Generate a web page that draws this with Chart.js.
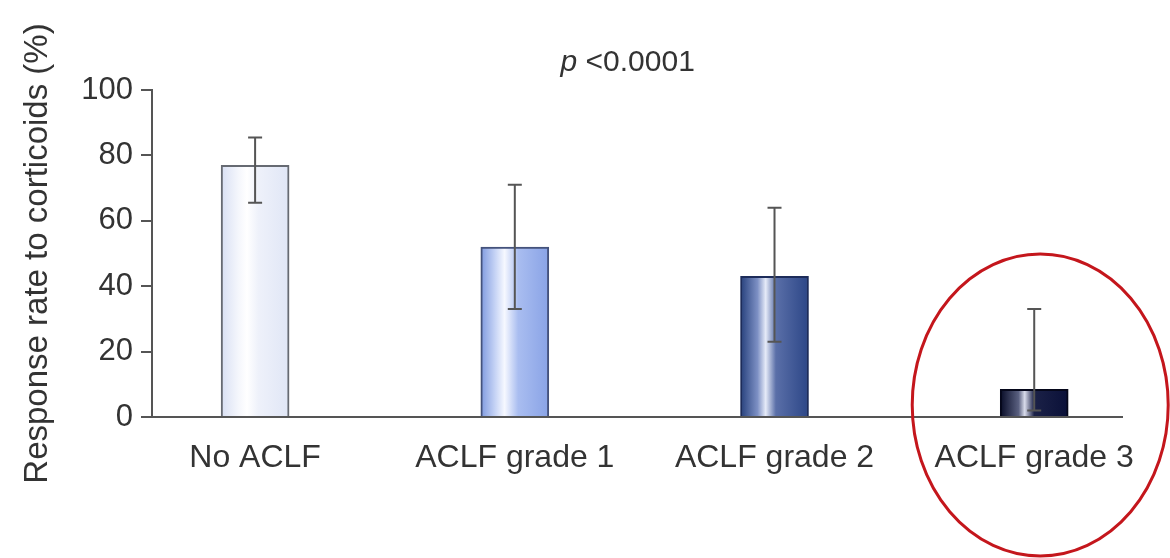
<!DOCTYPE html>
<html>
<head>
<meta charset="utf-8">
<script src="https://cdn.jsdelivr.net/npm/chart.js@4/dist/chart.umd.min.js"></script>
<style>
html,body{margin:0;padding:0;background:#fff;}
#wrap{width:1170px;height:558px;position:relative;}
</style>
</head>
<body>
<div id="wrap"><canvas id="c" width="1170" height="558"></canvas></div>
<script>
const categories = ["No ACLF", "ACLF grade 1", "ACLF grade 2", "ACLF grade 3"];
const responseRate = [77, 52, 43, 8.5];
const errorUpper = [85.5, 71, 64, 33];
const errorLower = [65.5, 33, 23, 2];
const yTicks = [0, 20, 40, 60, 80, 100];
const pValueLabel = "<0.0001";
const yAxisTitle = "Response rate to corticoids (%)";

const X_MIN = -0.397, X_MAX = 3.338;

const gradientStops = [
  [["#d8dff3",0],["#f4f6fc",0.25],["#ffffff",0.38],["#eef1fa",0.55],["#e0e6f6",1]],
  [["#7f9ae0",0],["#c9d6f6",0.22],["#f6f8ff",0.35],["#a9bdf0",0.55],["#89a3e6",1]],
  [["#26407c",0],["#7d90c4",0.25],["#e6ebf8",0.37],["#5a6fa8",0.52],["#2c4687",1]],
  [["#070b26",0],["#5a6080",0.27],["#d9dceb",0.36],["#1b2147",0.5],["#0a1038",1]]
];
const borderColors = ["#666a72", "#44527c", "#1d2c5a", "#05071a"];

const gradientPlugin = {
  id: 'grad',
  beforeDatasetsDraw(chart) {
    const meta = chart.getDatasetMeta(0);
    const ctx = chart.ctx;
    meta.data.forEach((el, i) => {
      const w = el.width, x0 = el.x - w/2;
      const g = ctx.createLinearGradient(x0, 0, x0 + w, 0);
      gradientStops[i].forEach(s => g.addColorStop(s[1], s[0]));
      el.options.backgroundColor = g;
    });
  }
};

const errorPlugin = {
  id: 'errbars',
  afterDatasetsDraw(chart) {
    const meta = chart.getDatasetMeta(0);
    const ys = chart.scales.y;
    const ctx = chart.ctx;
    ctx.save();
    ctx.strokeStyle = "#555";
    ctx.lineWidth = 2;
    meta.data.forEach((el, i) => {
      const x = el.x;
      const hi = ys.getPixelForValue(errorUpper[i]);
      const lo = ys.getPixelForValue(errorLower[i]);
      ctx.beginPath();
      ctx.moveTo(x, hi); ctx.lineTo(x, lo);
      ctx.moveTo(x - 7, hi); ctx.lineTo(x + 7, hi);
      ctx.moveTo(x - 7, lo); ctx.lineTo(x + 7, lo);
      ctx.stroke();
    });
    ctx.restore();
  }
};

const annotPlugin = {
  id: 'annot',
  afterDraw(chart) {
    const ctx = chart.ctx;
    const xs = chart.scales.x, ys = chart.scales.y;
    ctx.save();
    ctx.fillStyle = "#333";
    ctx.textBaseline = "middle";
    const F = "30px 'Liberation Sans', Arial, sans-serif";
    ctx.font = "italic " + F;
    const pW = ctx.measureText("p ").width;
    ctx.font = F;
    const tW = ctx.measureText(pValueLabel).width;
    const cx = (xs.getPixelForValue(1) + xs.getPixelForValue(2)) / 2 - 17;
    const startX = cx - (pW + tW) / 2;
    const ty = ys.getPixelForValue(100) - 27;
    ctx.textAlign = "left";
    ctx.font = "italic " + F;
    ctx.fillText("p ", startX, ty);
    ctx.font = F;
    ctx.fillText(pValueLabel, startX + pW, ty);
    ctx.strokeStyle = "#c4161c";
    ctx.lineWidth = 3;
    ctx.beginPath();
    ctx.ellipse(xs.getPixelForValue(3) + 6, ys.getPixelForValue(0) - 12, 128, 151, 0, 0, Math.PI * 2);
    ctx.stroke();
    ctx.restore();
  }
};

new Chart(document.getElementById('c'), {
  type: 'bar',
  data: {
    datasets: [{
      data: responseRate.map((v, i) => ({x: i, y: v})),
      backgroundColor: "#ccc",
      borderColor: borderColors,
      borderWidth: 2,
      borderSkipped: 'bottom',
      barThickness: 68
    }]
  },
  options: {
    responsive: false,
    animation: false,
    devicePixelRatio: 1,
    layout: { padding: { top: 90, right: 48, left: 0, bottom: 0 } },
    plugins: { legend: { display: false }, tooltip: { enabled: false }, title: { display: false } },
    scales: {
      x: {
        type: 'linear',
        offset: false,
        bounds: 'data',
        min: X_MIN,
        max: X_MAX,
        afterDataLimits(scale) { scale.min = X_MIN; scale.max = X_MAX; },
        afterBuildTicks(scale) { scale.ticks = categories.map((c, i) => ({ value: i })); scale.min = X_MIN; scale.max = X_MAX; },
        afterFit(scale) { scale.height = 141; },
        grid: { display: false, drawTicks: false, offset: false },
        border: { display: true, color: "#555", width: 2 },
        ticks: {
          autoSkip: false,
          maxRotation: 0,
          padding: 22,
          color: "#333",
          font: { family: "'Liberation Sans', Arial, sans-serif", size: 32 },
          callback: (v) => categories[v] ?? ""
        }
      },
      y: {
        min: 0,
        max: 100,
        afterBuildTicks(scale) { scale.ticks = yTicks.map(v => ({ value: v })); },
        afterFit(scale) { scale.width = 152; },
        grid: { drawOnChartArea: false, drawTicks: true, tickLength: 11, color: "#555", lineWidth: 2 },
        border: { display: true, color: "#555", width: 2 },
        ticks: {
          padding: 8,
          color: "#333",
          font: { family: "'Liberation Sans', Arial, sans-serif", size: 31 }
        },
        title: {
          display: true,
          text: yAxisTitle,
          color: "#333",
          padding: { top: 18, bottom: 0 },
          font: { family: "'Liberation Sans', Arial, sans-serif", size: 33 }
        }
      }
    }
  },
  plugins: [gradientPlugin, errorPlugin, annotPlugin]
});
</script>
</body>
</html>
